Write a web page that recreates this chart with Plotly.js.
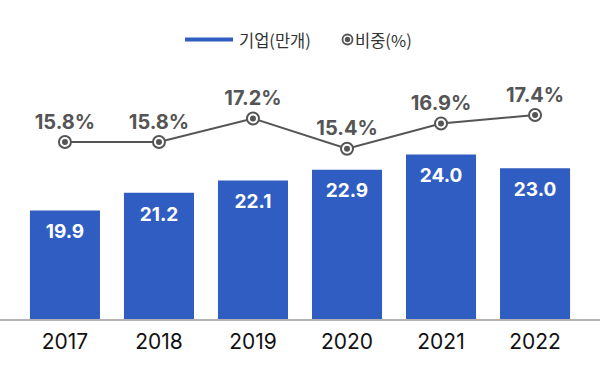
<!DOCTYPE html>
<html>
<head>
<meta charset="utf-8">
<script src="https://cdn.plot.ly/plotly-3.0.1.min.js"></script>
<style>html,body{margin:0;padding:0;background:#fff;}#chart{width:600px;height:380px;}</style>
</head>
<body>
<div id="chart"></div>
<script>
const years = ['2017', '2018', '2019', '2020', '2021', '2022'];
const companies = [19.9, 21.2, 22.1, 22.9, 24.0, 23.0];
const shares = [15.8, 15.8, 17.2, 15.4, 16.9, 17.4];
const seriesNames = ['기업(만개)', '비중(%)'];

const W = 600, H = 380, T = 60, B = 61;
const plotH = H - T - B;
const px2x = px => px / W;
const py2y = py => (H - B - py) / plotH;

const numFont = 'Inter, "Noto Sans", "Noto Sans CJK KR", sans-serif';
const korFont = '"Noto Sans CJK KR", "Noto Sans", sans-serif';
const blue = '#305DC2';
const gray = '#555555';

const traces = [
  {
    type: 'bar', x: years, y: companies, name: seriesNames[0],
    marker: {color: blue}, width: 0.745,
    showlegend: false, hoverinfo: 'skip'
  },
  {
    type: 'scatter', mode: 'markers+text', x: years, y: companies,
    marker: {size: 20, opacity: 0},
    text: companies.map(v => v.toFixed(1)), textposition: 'bottom center',
    textfont: {color: '#ffffff', size: 19, family: numFont, weight: 700},
    cliponaxis: false, showlegend: false, hoverinfo: 'skip'
  },
  {
    type: 'scatter', mode: 'lines+markers+text', x: years, y: shares, yaxis: 'y2', name: seriesNames[1],
    line: {color: gray, width: 2},
    marker: {size: 12, color: '#ffffff', line: {color: gray, width: 2}},
    text: shares.map(v => v.toFixed(1) + '%'), textposition: 'top center',
    textfont: {color: gray, size: 20, family: numFont, weight: 700},
    cliponaxis: false, showlegend: false, hoverinfo: 'skip'
  },
  {
    type: 'scatter', mode: 'markers', x: years, y: shares, yaxis: 'y2',
    marker: {size: 6, color: gray},
    cliponaxis: false, showlegend: false, hoverinfo: 'skip'
  }
];

const layout = {
  width: W, height: H,
  margin: {l: 0, r: 0, t: T, b: B, pad: 0},
  paper_bgcolor: '#ffffff', plot_bgcolor: '#ffffff',
  showlegend: false,
  xaxis: {
    type: 'category', range: [-0.691, 5.691], fixedrange: true,
    showline: true, linecolor: '#b3b3b3', linewidth: 2,
    showgrid: false, zeroline: false,
    ticks: 'outside', ticklen: 3, tickcolor: 'rgba(0,0,0,0)',
    tickfont: {size: 21, color: '#111111', family: numFont}
  },
  yaxis: {range: [11.96, 30.93], visible: false, showgrid: false, zeroline: false},
  yaxis2: {range: [5.29, 20.67], overlaying: 'y', visible: false, showgrid: false, zeroline: false},
  shapes: [
    {type: 'line', xref: 'paper', yref: 'paper', x0: px2x(185), x1: px2x(233), y0: py2y(39.5), y1: py2y(39.5), line: {color: blue, width: 4}},
    {type: 'circle', xref: 'paper', yref: 'paper', x0: px2x(342.5), x1: px2x(352.5), y0: py2y(44.5), y1: py2y(34.5), fillcolor: '#ffffff', line: {color: gray, width: 1.8}},
    {type: 'circle', xref: 'paper', yref: 'paper', x0: px2x(344.8), x1: px2x(350.2), y0: py2y(42.2), y1: py2y(36.8), fillcolor: gray, line: {width: 0}}
  ],
  annotations: [
    {xref: 'paper', yref: 'paper', x: px2x(237), y: py2y(40), xanchor: 'left', yanchor: 'middle', showarrow: false, text: seriesNames[0], font: {size: 16.5, color: '#333333', family: korFont}},
    {xref: 'paper', yref: 'paper', x: px2x(353), y: py2y(40), xanchor: 'left', yanchor: 'middle', showarrow: false, text: seriesNames[1], font: {size: 16.5, color: '#333333', family: korFont}}
  ]
};

Plotly.newPlot('chart', traces, layout, {displayModeBar: false, staticPlot: true});
</script>
</body>
</html>
